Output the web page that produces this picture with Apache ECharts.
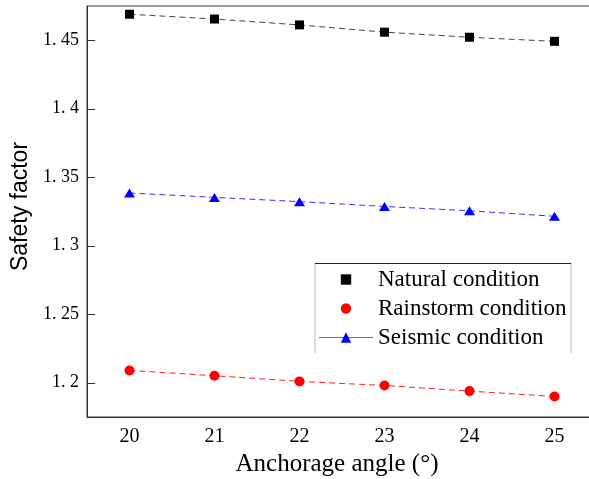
<!DOCTYPE html>
<html>
<head>
<meta charset="utf-8">
<script src="https://cdn.jsdelivr.net/npm/echarts@6/dist/echarts.min.js"></script>
<style>html,body{margin:0;padding:0;background:#fff}#c{width:589px;height:479px}</style>
</head>
<body>
<div id="c"></div>
<script>
var categories = ['20', '21', '22', '23', '24', '25'];
var naturalValues = [1.469, 1.4655, 1.4612, 1.4559, 1.4522, 1.4492];
var rainstormValues = [1.209, 1.2051, 1.201, 1.198, 1.1939, 1.190];
var seismicValues = [1.3385, 1.3353, 1.3322, 1.3287, 1.3255, 1.3215];
var yTickValues = [1.2, 1.25, 1.3, 1.35, 1.4, 1.45];
var yTickLabels = ['1. 2', '1. 25', '1. 3', '1. 35', '1. 4', '1. 45'];
var seriesNames = ['Natural condition', 'Rainstorm condition', 'Seismic condition'];

var chart = echarts.init(document.getElementById('c'), null, {renderer: 'canvas'});
var serif = 'Liberation Serif';
var option = {
  backgroundColor: '#fff',
  animation: false,
  grid: {left: 87, top: 6, width: 510, height: 411, outerBoundsMode: 'none', containLabel: false, show: true, borderColor: '#333', borderWidth: 1, backgroundColor: 'transparent'},
  xAxis: {
    type: 'category',
    data: categories,
    boundaryGap: true,
    name: 'Anchorage angle (°)',
    nameLocation: 'middle',
    nameGap: 28,
    nameTextStyle: {fontFamily: serif, fontSize: 25, color: '#000', padding: [0, 10, 0, 0]},
    axisLine: {lineStyle: {color: '#333', width: 1}},
    axisTick: {inside: true, length: 8, alignWithLabel: true, lineStyle: {color: '#333'}},
    axisLabel: {fontFamily: serif, fontSize: 20, color: '#000', margin: 10},
    splitLine: {show: false}
  },
  yAxis: {
    type: 'value',
    min: 1.175,
    max: 1.475,
    name: 'Safety factor',
    nameLocation: 'middle',
    nameGap: 54,
    nameTextStyle: {fontFamily: 'Liberation Sans', fontSize: 23, color: '#000', padding: [0, 0, 0, 10]},
    axisLine: {show: true, lineStyle: {color: '#333', width: 1}},
    axisTick: {show: true, inside: true, length: 8, customValues: yTickValues, lineStyle: {color: '#333'}},
    axisLabel: {
      fontFamily: serif, fontSize: 18, color: '#000', margin: 8,
      customValues: yTickValues,
      formatter: function (v) {
        for (var i = 0; i < yTickValues.length; i++) {
          if (Math.abs(yTickValues[i] - v) < 1e-6) return yTickLabels[i];
        }
        return '';
      }
    },
    splitLine: {show: false}
  },
  legend: {
    orient: 'vertical',
    left: 318,
    top: 268,
    padding: 0,
    itemWidth: 54,
    itemHeight: 13,
    itemGap: 6,
    textStyle: {fontFamily: serif, fontSize: 23, color: '#000'},
    data: [
      {name: seriesNames[0], lineStyle: {opacity: 0}},
      {name: seriesNames[1], lineStyle: {opacity: 0}},
      {name: seriesNames[2], lineStyle: {type: 'solid', color: '#5a5aff', width: 1}}
    ]
  },
  graphic: [
    {type: 'polyline', silent: true, shape: {points: [[315, 353], [315, 263.5]]}, style: {stroke: '#bbb', lineWidth: 1, fill: null}},
    {type: 'polyline', silent: true, shape: {points: [[571, 263.5], [571, 353]]}, style: {stroke: '#bbb', lineWidth: 1, fill: null}},
    {type: 'polyline', silent: true, shape: {points: [[315, 263.5], [571, 263.5]]}, style: {stroke: '#222', lineWidth: 1, fill: null}}
  ],
  series: [
    {
      name: seriesNames[0], type: 'line', data: naturalValues,
      symbol: 'rect', symbolSize: 9,
      itemStyle: {color: '#000'},
      lineStyle: {color: '#444', width: 1, type: [6, 4]}
    },
    {
      name: seriesNames[1], type: 'line', data: rainstormValues,
      symbol: 'circle', symbolSize: 10,
      itemStyle: {color: '#ff0000'},
      lineStyle: {color: '#ff2020', width: 1, type: [6, 4]}
    },
    {
      name: seriesNames[2], type: 'line', data: seismicValues,
      symbol: 'triangle', symbolSize: [11, 9],
      itemStyle: {color: '#0000ff'},
      lineStyle: {color: '#3030ff', width: 1, type: [6, 4]}
    }
  ]
};
chart.setOption(option);
</script>
</body>
</html>
